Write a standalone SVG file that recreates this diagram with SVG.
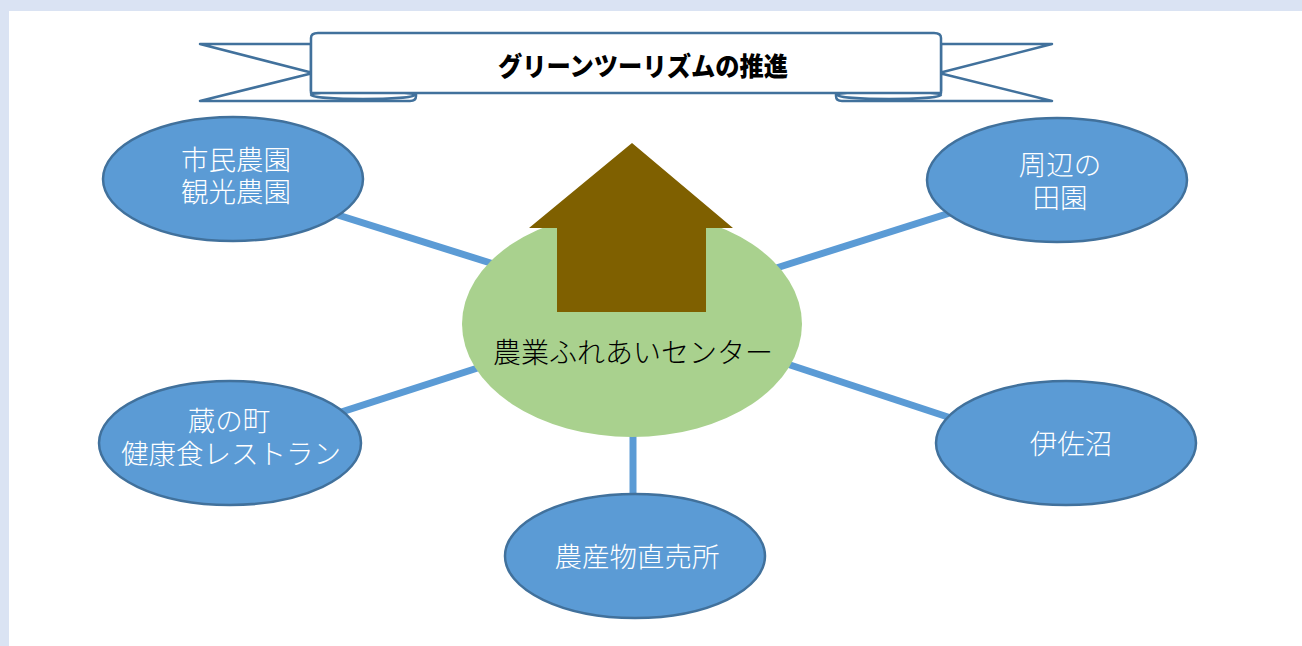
<svg xmlns="http://www.w3.org/2000/svg" width="1302" height="646" viewBox="0 0 1302 646">
<style>
.node{fill:#5b9bd5;stroke:#41719c;stroke-width:2.5}
.ntext{font-family:"Noto Sans CJK JP","Noto Sans",sans-serif;font-size:27.5px;fill:#ffffff;text-anchor:middle;font-weight:300}
.conn{stroke:#5b9bd5;stroke-width:7;fill:none}
.rib{fill:#ffffff;stroke:#41719c;stroke-width:2.5;stroke-linejoin:round}
</style>
<rect x="0" y="0" width="1302" height="646" fill="#dae3f3"/>
<rect x="9" y="11" width="1293" height="635" fill="#ffffff"/>

<g id="banner">
  <path class="rib" d="M311,44 L200,44 L313,73 L200,101 L410,101 Q416,101 416,96 L416,91 L311,91 Z"/>
  <path class="rib" d="M941,44 L1052,44 L939,73 L1052,101 L842,101 Q836,101 836,96 L836,91 L941,91 Z"/>
  <ellipse class="rib" cx="363" cy="95" rx="52" ry="4"/>
  <ellipse class="rib" cx="889" cy="95" rx="52" ry="4"/>
  <path class="rib" d="M318,33 L934,33 Q941,33 941,38 L941,93 L311,93 L311,38 Q311,33 318,33 Z"/>
  <text x="643" y="76" font-family="'Noto Sans CJK JP','Noto Sans',sans-serif" font-size="26" font-weight="900" fill="#000000" text-anchor="middle" textLength="290" lengthAdjust="spacingAndGlyphs">グリーンツーリズムの推進</text>
</g>

<g id="connectors">
  <line class="conn" x1="233" y1="182" x2="500" y2="266"/>
  <line class="conn" x1="1057" y1="179" x2="770" y2="270"/>
  <line class="conn" x1="230" y1="448" x2="490" y2="364"/>
  <line class="conn" x1="1066" y1="456" x2="775" y2="360"/>
  <line class="conn" x1="633" y1="400" x2="633" y2="520"/>
</g>

<g id="center">
  <ellipse cx="632" cy="324" rx="170" ry="113" fill="#a9d18e"/>
  <polygon points="632,143 733,228 706,228 706,312 557,312 557,228 529,228" fill="#7f6000"/>
  <text x="633" y="363" font-family="'Noto Sans CJK JP','Noto Sans',sans-serif" font-size="28" font-weight="300" fill="#000000" text-anchor="middle">農業ふれあいセンター</text>
</g>

<g id="node-shimin">
  <ellipse class="node" cx="233" cy="179" rx="130" ry="62"/>
  <text class="ntext" x="236" y="170">市民農園</text>
  <text class="ntext" x="236" y="202">観光農園</text>
</g>

<g id="node-shuhen">
  <ellipse class="node" cx="1057" cy="180" rx="130" ry="62"/>
  <text class="ntext" x="1060" y="175">周辺の</text>
  <text class="ntext" x="1060" y="208">田園</text>
</g>

<g id="node-kura">
  <ellipse class="node" cx="230" cy="443" rx="131" ry="62"/>
  <text class="ntext" x="229" y="431">蔵の町</text>
  <text class="ntext" x="231" y="464">健康食レストラン</text>
</g>

<g id="node-isanuma">
  <ellipse class="node" cx="1066" cy="443" rx="130" ry="62"/>
  <text class="ntext" x="1071" y="454">伊佐沼</text>
</g>

<g id="node-chokubai">
  <ellipse class="node" cx="635" cy="556" rx="130" ry="62"/>
  <text class="ntext" x="637" y="567">農産物直売所</text>
</g>
</svg>
